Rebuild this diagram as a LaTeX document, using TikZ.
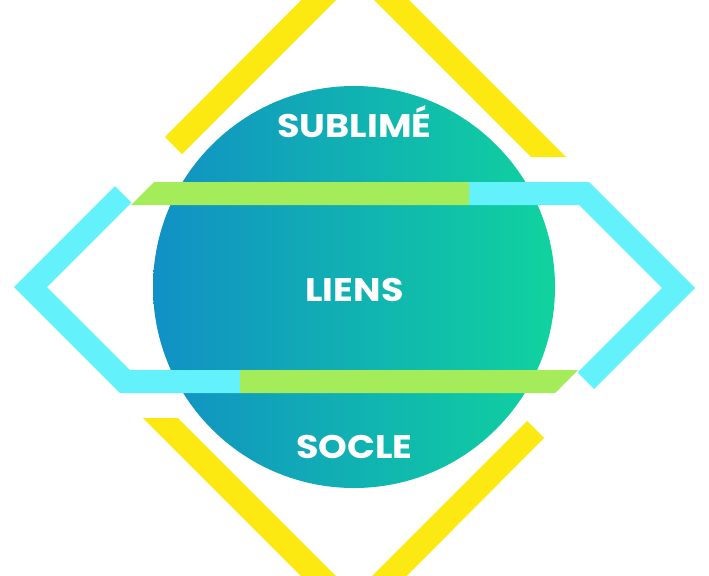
\documentclass[tikz,border=0pt]{standalone}
\usepackage{fontspec}
\setmainfont{Poppins}
\definecolor{yel}{RGB}{252,233,18}
\definecolor{cya}{RGB}{99,242,252}
\definecolor{grn}{RGB}{165,236,90}
\definecolor{cblue}{RGB}{17,144,197}
\definecolor{cgreen}{RGB}{16,211,158}
\tikzset{
  lbl/.style={text=white, font=\fontsize{24.5}{28}\selectfont\bfseries, inner sep=0pt, xscale=1.12},
  yband/.style={fill=yel, draw=none},
  cband/.style={fill=cya, draw=none},
  gband/.style={fill=grn, draw=none}
}
\begin{document}
\begin{tikzpicture}[x=0.75pt,y=-0.75pt]
\useasboundingbox (0,0) rectangle (709,575);
% circle
\shade[left color=cblue, right color=cgreen] (354,287) circle[radius=150.75pt];
% yellow chevrons
\fill[yband] (165,137) -- (355,-54) -- (566,157) -- (531,157) -- (355,-19) -- (182,154) -- cycle;
\fill[yband] (544,438) -- (354,629) -- (143,418) -- (178,418) -- (354,594) -- (527,421) -- cycle;
% cyan chevrons
\fill[cband] (14,287) -- (115,186) -- (131.5,202.5) -- (47,287) -- (130,370) -- (240,370) -- (240,393) -- (120,393) -- cycle;
\fill[cband] (695,288) -- (594,389) -- (577.5,372.5) -- (662,288) -- (579,205) -- (469,205) -- (469,182) -- (589,182) -- cycle;
% green bands
\fill[gband] (240,370) -- (578,370) -- (555,393) -- (240,393) -- cycle;
\fill[gband] (469,205) -- (131,205) -- (154,182) -- (469,182) -- cycle;
% labels
\node[lbl, anchor=base] (sub) at (354.5,137) {SUBLIMÉ};
\node[lbl, anchor=base] (lie) at (354.5,301) {LIENS};
\node[lbl, anchor=base] (soc) at (354.5,458) {SOCLE};
\end{tikzpicture}
\end{document}
